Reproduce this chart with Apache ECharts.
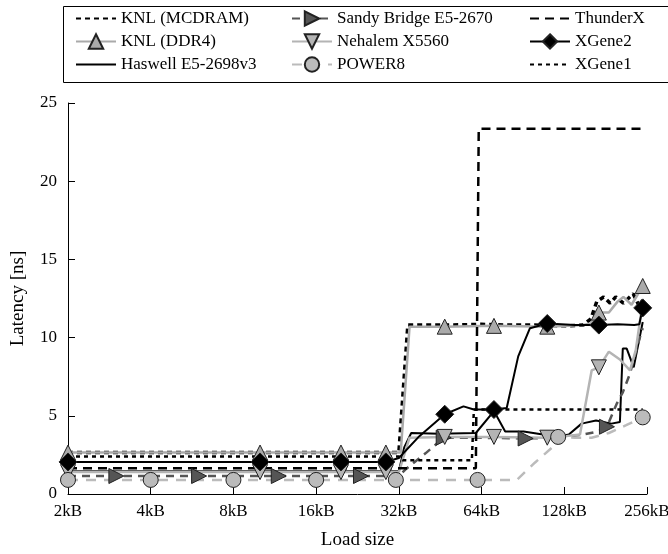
<!DOCTYPE html>
<html>
<head>
<meta charset="utf-8">
<script src="https://cdn.jsdelivr.net/npm/echarts@6/dist/echarts.min.js"></script>
<style>
html, body { margin: 0; padding: 0; background: #fff; }
#main { width: 668px; height: 554px; }
</style>
</head>
<body>
<div id="main"></div>
<script>
// load size in kB, latency in ns
var mcdramKB = [2, 32, 34.5, 48, 64, 80, 100, 128, 150, 160, 168, 178, 188, 197, 210, 228, 240, 247];
var mcdramNs = [2.65, 2.65, 10.8, 10.8, 10.85, 10.8, 10.8, 10.75, 10.8, 11.2, 12.3, 12.6, 12.2, 12.6, 12.2, 12.8, 12.0, 12.4];

var ddr4KB = [2, 10, 19.7, 28.7, 32.5, 35, 47, 71, 111, 150, 160, 171, 186, 200, 210, 225, 247];
var ddr4Ns = [2.65, 2.65, 2.65, 2.65, 2.65, 10.7, 10.7, 10.75, 10.7, 10.8, 10.9, 11.6, 11.6, 12.3, 12.6, 12.1, 13.3];
var ddr4Marks = [2, 10, 19.7, 28.7, 47, 71, 111, 171, 247];

var haswellKB = [2, 32, 33.5, 35.5, 45, 61, 71, 78, 91, 107, 116, 133, 148, 167, 190, 204, 209, 216, 229, 247];
var haswellNs = [1.45, 1.45, 3.0, 3.9, 3.85, 3.9, 5.3, 4.0, 4.0, 3.8, 3.6, 3.8, 4.5, 4.7, 4.5, 4.6, 9.3, 9.3, 8.1, 11.0];

var sandyKB = [2, 3, 6, 11.7, 23.3, 32, 34, 40, 46.6, 60, 92.6, 120, 150, 170, 183, 199, 209, 222, 241, 247];
var sandyNs = [1.15, 1.15, 1.15, 1.15, 1.15, 1.15, 1.6, 2.6, 3.6, 3.6, 3.55, 3.6, 3.8, 4.0, 4.3, 5.8, 6.5, 7.7, 10.0, 10.6];
var sandyMarks = [3, 6, 11.7, 23.3, 46.6, 92.6, 183];

var nehalemKB = [2, 10, 19.7, 28.7, 32, 35, 47, 71, 111, 130, 146, 161, 171, 186, 204, 222, 233, 247];
var nehalemNs = [1.4, 1.4, 1.4, 1.4, 1.4, 3.6, 3.65, 3.65, 3.6, 3.7, 3.8, 7.9, 8.1, 9.1, 8.6, 7.9, 9.2, 12.3];
var nehalemMarks = [2, 10, 19.7, 28.7, 47, 71, 111, 171];

var power8KB = [2, 4, 8, 16, 31.2, 61.9, 86, 100, 116, 121.6, 140, 161, 186, 215, 247];
var power8Ns = [0.9, 0.9, 0.9, 0.9, 0.9, 0.9, 0.9, 2.0, 3.0, 3.65, 3.6, 3.6, 3.9, 4.4, 4.9];
var power8Marks = [2, 4, 8, 16, 31.2, 61.9, 121.6, 247];

var thunderKB = [2, 61, 62.5, 247];
var thunderNs = [1.65, 1.65, 23.35, 23.35];

var xgene2KB = [2, 10, 19.7, 28.7, 32, 38, 47, 55, 60, 71, 79, 87, 96, 111, 140, 171, 200, 230, 240, 247];
var xgene2Ns = [2.05, 2.05, 2.05, 2.05, 2.3, 3.7, 5.1, 5.6, 5.4, 5.4, 5.5, 8.8, 10.6, 10.9, 10.8, 10.8, 10.85, 10.8, 10.85, 11.9];
var xgene2Marks = [2, 10, 19.7, 28.7, 47, 71, 111, 171, 247];

var xgene1KB = [2, 32, 33, 59, 60, 247];
var xgene1Ns = [2.4, 2.4, 2.15, 2.15, 5.4, 5.4];

var legendCols = [
    ['KNL (MCDRAM)', 'KNL (DDR4)', 'Haswell E5-2698v3'],
    ['Sandy Bridge E5-2670', 'Nehalem X5560', 'POWER8'],
    ['ThunderX', 'XGene2', 'XGene1']
];
// series drawn as plain lines (no marker in the legend)
var plainLines = ['KNL (MCDRAM)', 'Haswell E5-2698v3', 'ThunderX', 'XGene1'];

var FONT = 'Liberation Serif';

init()

function init() {
    var chart = echarts.init(document.getElementById('main'));
    chart.setOption({
        animation: false,
        backgroundColor: '#fff',
        textStyle: { fontFamily: FONT },
        grid: { left: 68, right: 21, top: 103, bottom: 60, outerBoundsMode: 'none' },
        graphic: [{
            type: 'rect',
            left: 61, top: 4,
            shape: { width: 605, height: 76 },
            style: { fill: 'none', stroke: '#000', lineWidth: 1 }
        }],
        legend: legends(),
        xAxis: {
            type: 'log',
            logBase: 2,
            min: 2,
            max: 256,
            splitNumber: 7,
            name: 'Load size',
            nameLocation: 'middle',
            nameGap: 37,
            nameTextStyle: { color: '#000', fontSize: 19, fontFamily: FONT },
            axisLine: { lineStyle: { color: '#000', width: 1 } },
            axisTick: { inside: true, length: 7, lineStyle: { color: '#000' } },
            minorTick: { show: false },
            splitLine: { show: false },
            axisLabel: {
                color: '#000', fontSize: 17, fontFamily: FONT, margin: 9,
                formatter: function(v) { return Math.round(v) + 'kB'; }
            }
        },
        yAxis: {
            type: 'value',
            min: 0,
            max: 25,
            interval: 5,
            name: 'Latency [ns]',
            nameLocation: 'middle',
            nameGap: 40,
            nameTextStyle: { color: '#000', fontSize: 19, fontFamily: FONT },
            axisLine: { show: true, lineStyle: { color: '#000', width: 1 } },
            axisTick: { show: true, inside: true, length: 7, lineStyle: { color: '#000' } },
            splitLine: { show: false },
            axisLabel: { color: '#000', fontSize: 17, fontFamily: FONT, margin: 11 }
        },
        series: [
            line('KNL (MCDRAM)', mcdramKB, mcdramNs, null, '#000', 3.5, [5, 4], 'none', 0),
            line('KNL (DDR4)', ddr4KB, ddr4Ns, ddr4Marks, '#aaa', 2.5, 'solid', 'triangle', 0),
            line('Haswell E5-2698v3', haswellKB, haswellNs, null, '#000', 2, 'solid', 'none', 0),
            line('Sandy Bridge E5-2670', sandyKB, sandyNs, sandyMarks, '#555', 2.5, [8, 6], 'triangle', -90),
            line('Nehalem X5560', nehalemKB, nehalemNs, nehalemMarks, '#b4b4b4', 2.5, 'solid', 'triangle', 180),
            line('POWER8', power8KB, power8Ns, power8Marks, '#bbb', 2.5, [10, 8], 'circle', 0),
            line('ThunderX', thunderKB, thunderNs, null, '#000', 2.5, [9, 6], 'none', 0),
            line('XGene2', xgene2KB, xgene2Ns, xgene2Marks, '#000', 2, 'solid', 'diamond', 0),
            line('XGene1', xgene1KB, xgene1Ns, null, '#000', 2.5, [4, 4], 'none', 0)
        ]
    });
}

// three vertical legends, one per column
function legends() {
    var lefts = [75, 291, 529];
    return legendCols.map(function(names, i) {
        return {
            data: names.map(function(n) {
                if (plainLines.indexOf(n) >= 0) {
                    return { name: n, itemStyle: { opacity: 0, borderWidth: 0 } };
                }
                return { name: n };
            }),
            orient: 'vertical',
            left: lefts[i],
            top: 10,
            padding: 0,
            itemGap: 6,
            itemWidth: 40,
            itemHeight: 18,
            selectedMode: false,
            textStyle: { color: '#000', fontSize: 17, fontFamily: FONT, lineHeight: 17 }
        };
    });
}

// line series, symbols only on the marked points
function line(name, kb, ns, marks, color, width, dash, symbol, rotate) {
    var data = kb.map(function(k, i) {
        var item = { value: [k, ns[i]] };
        if (!marks || marks.indexOf(k) < 0) item.symbol = 'none';
        return item;
    });
    var fill = symbol === 'diamond' ? '#000' : color;
    return {
        name: name,
        type: 'line',
        data: data,
        symbol: symbol,
        symbolSize: symbol === 'diamond' ? 18 : 15,
        symbolRotate: rotate,
        showSymbol: true,
        lineStyle: { color: color, width: width, type: dash, cap: 'butt' },
        itemStyle: { color: fill, borderColor: '#222', borderWidth: 1 },
        emphasis: { disabled: true }
    };
}
</script>
</body>
</html>
